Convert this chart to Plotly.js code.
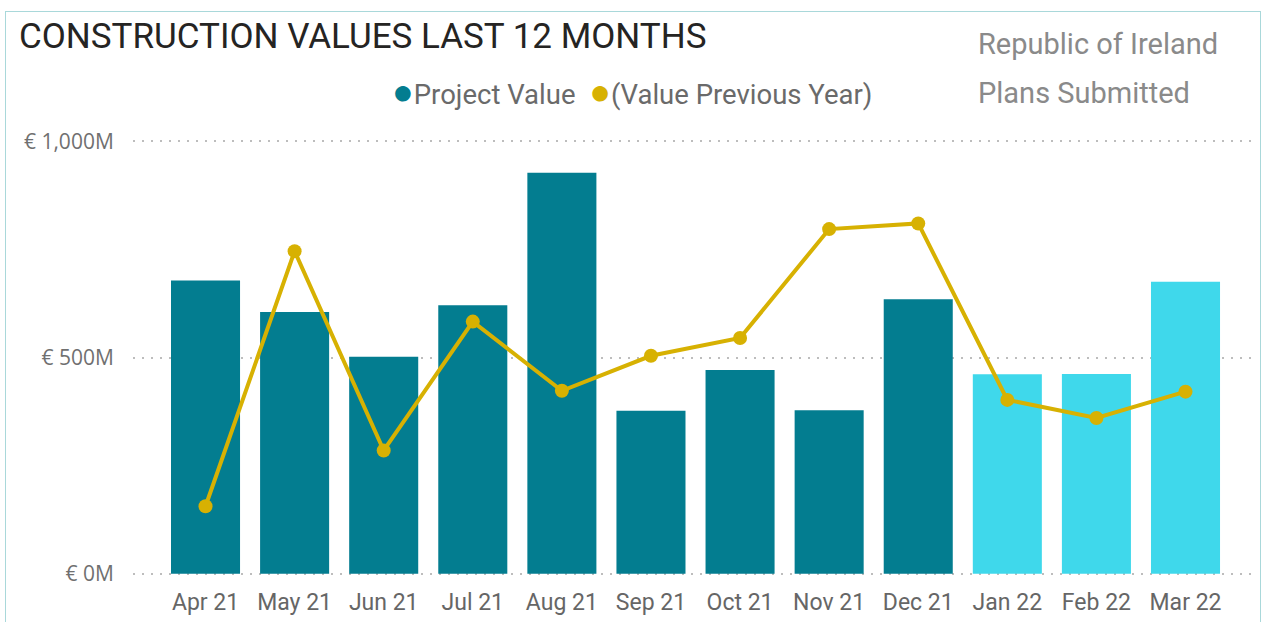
<!DOCTYPE html>
<html>
<head>
<meta charset="utf-8">
<script src="https://cdn.plot.ly/plotly-3.0.1.min.js"></script>
<style>
  html, body { margin: 0; padding: 0; background: #ffffff; }
  #wrap { position: relative; width: 1269px; height: 622px; overflow: hidden; background: #fff; }
  #frame { position: absolute; left: 5px; top: 11px; width: 1256px; height: 640px; border: 1.5px solid #A9D8DA; box-sizing: border-box; pointer-events: none; }
  #chart { position: absolute; left: 0; top: 0; width: 1269px; height: 622px; }
</style>
</head>
<body>
<div id="wrap">
  <div id="chart"></div>
  <div id="frame"></div>
</div>
<script>
// ---- data (values in € millions) ----
const months = ["Apr 21","May 21","Jun 21","Jul 21","Aug 21","Sep 21","Oct 21","Nov 21","Dec 21","Jan 22","Feb 22","Mar 22"];
const projectValue = [678, 605, 502, 621, 927, 377, 471, 378, 635, 461, 462, 675];
const previousYearValue = [156, 746, 285, 583, 423, 504, 545, 797, 810, 402, 360, 421];
const yTickVals = [0, 500, 1000];
const yTickText = ["€ 0M", "€ 500M", "€ 1,000M"];
const titleText = "CONSTRUCTION VALUES LAST 12 MONTHS";
const seriesNames = ["Project Value", "(Value Previous Year)"];
const subtitleLines = ["Republic of Ireland", "Plans Submitted"];

// ---- styling ----
const DARK = "#037D90";
const LIGHT = "#3FD8EB";
const GOLD = "#D7B102";
const barColors = months.map(m => m.endsWith("22") ? LIGHT : DARK);

const traces = [
  {
    type: "bar",
    x: months,
    y: projectValue,
    name: seriesNames[0],
    marker: { color: barColors, line: { width: 0 } },
    hoverinfo: "x+y"
  },
  {
    type: "scatter",
    mode: "lines+markers",
    x: months,
    y: previousYearValue,
    name: seriesNames[1],
    line: { color: GOLD, width: 4 },
    marker: { color: GOLD, size: 14 },
    hoverinfo: "x+y"
  }
];

// plot area: y=1000 at 141px, y=0 at ~574px
const T = 140, B = 47;
const plotH = 622 - T - B;

function py(pixelY) { return 1 - (pixelY - T) / plotH; }
function px(pixelX) { return (pixelX - 133) / (1269 - 133 - 14); }

const bullet = (c) => '<span style="color:' + c + ';font-size:36px">●</span>';

const layout = {
  width: 1269,
  height: 622,
  margin: { l: 133, r: 14, t: T, b: B, pad: 0 },
  paper_bgcolor: "rgba(0,0,0,0)",
  plot_bgcolor: "rgba(0,0,0,0)",
  showlegend: false,
  bargap: 0.225,
  font: { family: "Roboto, 'Open Sans', sans-serif", color: "#666666" },
  title: {
    text: titleText,
    font: { family: "Roboto, sans-serif", size: 35, color: "#252423" },
    x: 19 / 1269, xref: "container", xanchor: "left",
    y: 1 - 36 / 622, yref: "container", yanchor: "middle",
    pad: { t: 0, l: 0 }
  },
  xaxis: {
    type: "category",
    range: [-0.814, 11.78],
    showgrid: false,
    zeroline: false,
    showline: false,
    ticks: "outside",
    ticklen: 6,
    tickcolor: "rgba(0,0,0,0)",
    tickfont: { family: "Roboto, sans-serif", size: 23, color: "#666666" },
    fixedrange: true
  },
  yaxis: {
    range: [-3, 1003],
    tickvals: yTickVals,
    ticktext: yTickText,
    showgrid: true,
    gridcolor: "#BDBDBD",
    gridwidth: 2,
    griddash: "2px,7px",
    zeroline: false,
    showline: false,
    ticks: "outside",
    ticklen: 14,
    tickcolor: "rgba(0,0,0,0)",
    tickfont: { family: "'Open Sans', sans-serif", size: 21, color: "#707070" },
    fixedrange: true
  },
  annotations: [
    {
      xref: "paper", yref: "paper",
      x: px(390), y: py(92),
      xanchor: "left", yanchor: "middle",
      showarrow: false,
      text: bullet(DARK) + seriesNames[0] + '  ' + bullet(GOLD) + seriesNames[1],
      font: { family: "Roboto, sans-serif", size: 27.5, color: "#6A6A6A" }
    },
    {
      xref: "paper", yref: "paper",
      x: px(976), y: py(44),
      xanchor: "left", yanchor: "middle",
      showarrow: false,
      text: subtitleLines[0],
      font: { family: "Roboto, sans-serif", size: 29, color: "#8A8A8A" }
    },
    {
      xref: "paper", yref: "paper",
      x: px(976), y: py(93),
      xanchor: "left", yanchor: "middle",
      showarrow: false,
      text: subtitleLines[1],
      font: { family: "Roboto, sans-serif", size: 29, color: "#8A8A8A" }
    }
  ]
};

Plotly.newPlot("chart", traces, layout, { displayModeBar: false, staticPlot: true });
</script>
</body>
</html>
